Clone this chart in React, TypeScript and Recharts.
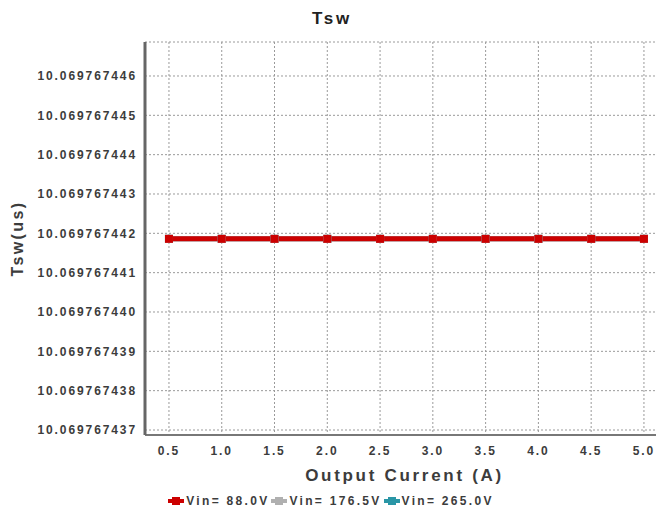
import React from "react";
import {
  LineChart,
  Line,
  XAxis,
  YAxis,
  CartesianGrid,
} from "recharts";

// categories (output current, A)
const currents = [0.5, 1.0, 1.5, 2.0, 2.5, 3.0, 3.5, 4.0, 4.5, 5.0];

// switching period per input voltage (us) - all three overlap
const tsw88 = [
  10.06976744186, 10.06976744186, 10.06976744186, 10.06976744186, 10.06976744186,
  10.06976744186, 10.06976744186, 10.06976744186, 10.06976744186, 10.06976744186,
];
const tsw176 = [
  10.06976744186, 10.06976744186, 10.06976744186, 10.06976744186, 10.06976744186,
  10.06976744186, 10.06976744186, 10.06976744186, 10.06976744186, 10.06976744186,
];
const tsw265 = [
  10.06976744186, 10.06976744186, 10.06976744186, 10.06976744186, 10.06976744186,
  10.06976744186, 10.06976744186, 10.06976744186, 10.06976744186, 10.06976744186,
];

const yTicks = [
  10.069767437, 10.069767438, 10.069767439, 10.06976744, 10.069767441,
  10.069767442, 10.069767443, 10.069767444, 10.069767445, 10.069767446,
];

const SERIES = [
  { key: "v265", name: "Vin= 265.0V", color: "#2a96a6" },
  { key: "v176", name: "Vin= 176.5V", color: "#b0b0b0" },
  { key: "v88", name: "Vin= 88.0V", color: "#cc0000" },
];
const LEGEND_ORDER = ["v88", "v176", "v265"];

const data = currents.map((c, i) => ({
  current: c,
  v88: tsw88[i],
  v176: tsw176[i],
  v265: tsw265[i],
}));

const FONT = '"Liberation Sans", Arial, sans-serif';
const TEXT = "#3c3c3c";

const SquareDot = (color: string) => (props: any) => {
  const { cx, cy, index } = props;
  if (cx == null || cy == null) return null;
  return <rect key={`d-${index}`} x={cx - 4} y={cy - 4} width={8} height={8} fill={color} />;
};

const tickStyle = { fontSize: 12, fontWeight: 700, fill: TEXT, fontFamily: FONT, letterSpacing: 1.9 };

export default function App() {
  return (
    <div style={{ position: "relative", width: 664, height: 513, margin: -8, background: "#fff", fontFamily: FONT }}>
      <div
        style={{
          position: "absolute",
          top: 9,
          left: 0,
          width: 664,
          textAlign: "center",
          fontSize: 17,
          fontWeight: 700,
          letterSpacing: 2.8,
          color: "#222",
        }}
      >
        Tsw
      </div>
      <LineChart
        width={664}
        height={513}
        data={data}
        margin={{ top: 42, right: 0, bottom: 0, left: 0 }}
      >
        <CartesianGrid stroke="#9a9a9a" strokeDasharray="2 2" />
        <XAxis
          dataKey="current"
          type="number"
          domain={[0.273, 5.19]}
          ticks={currents}
          allowDataOverflow
          tickFormatter={(v: number) => v.toFixed(1)}
          height={78}
          tickSize={0}
          tickMargin={11}
          tick={tickStyle}
          axisLine={{ stroke: "#777", strokeWidth: 2 }}
          label={{
            value: "Output Current (A)",
            position: "insideTop",
            offset: 34,
            style: { fontSize: 17, fontWeight: 700, fill: TEXT, fontFamily: FONT, letterSpacing: 2.7 },
          }}
        />
        <XAxis
          xAxisId="top"
          orientation="top"
          type="number"
          domain={[0.273, 5.19]}
          tick={false}
          height={0}
          axisLine={{ stroke: "#666", strokeWidth: 3 }}
        />
        <YAxis
          type="number"
          domain={[10.069767436873, 10.069767446864]}
          ticks={yTicks}
          allowDataOverflow
          interval={0}
          tickFormatter={(v: number) => v.toFixed(9)}
          width={145}
          tickSize={0}
          tickMargin={8}
          tick={tickStyle}
          axisLine={{ stroke: "#666", strokeWidth: 3 }}
          label={{
            value: "Tsw(us)",
            angle: -90,
            position: "insideLeft",
            offset: 17,
            style: { fontSize: 16, fontWeight: 700, fill: TEXT, fontFamily: FONT, letterSpacing: 2.4, textAnchor: "middle" },
          }}
        />
        {SERIES.map((s) => (
          <Line
            key={s.key}
            dataKey={s.key}
            name={s.name}
            stroke={s.color}
            strokeWidth={5}
            dot={SquareDot(s.color)}
            activeDot={false}
            isAnimationActive={false}
          />
        ))}
      </LineChart>
      <div
        style={{
          position: "absolute",
          top: 494,
          left: 0,
          width: 664,
          display: "flex",
          justifyContent: "center",
          fontSize: 12,
          fontWeight: 700,
          letterSpacing: 2.3,
          color: TEXT,
        }}
      >
        {LEGEND_ORDER.map((k) => {
          const s = SERIES.find((x) => x.key === k)!;
          return (
            <span key={k} style={{ display: "inline-flex", alignItems: "center", marginRight: 2 }}>
              <svg width={16} height={10} style={{ marginRight: 2 }}>
                <line x1={0} y1={5} x2={16} y2={5} stroke={s.color} strokeWidth={4} />
                <rect x={4} y={1} width={8} height={8} fill={s.color} />
              </svg>
              {s.name}
            </span>
          );
        })}
      </div>
    </div>
  );
}
